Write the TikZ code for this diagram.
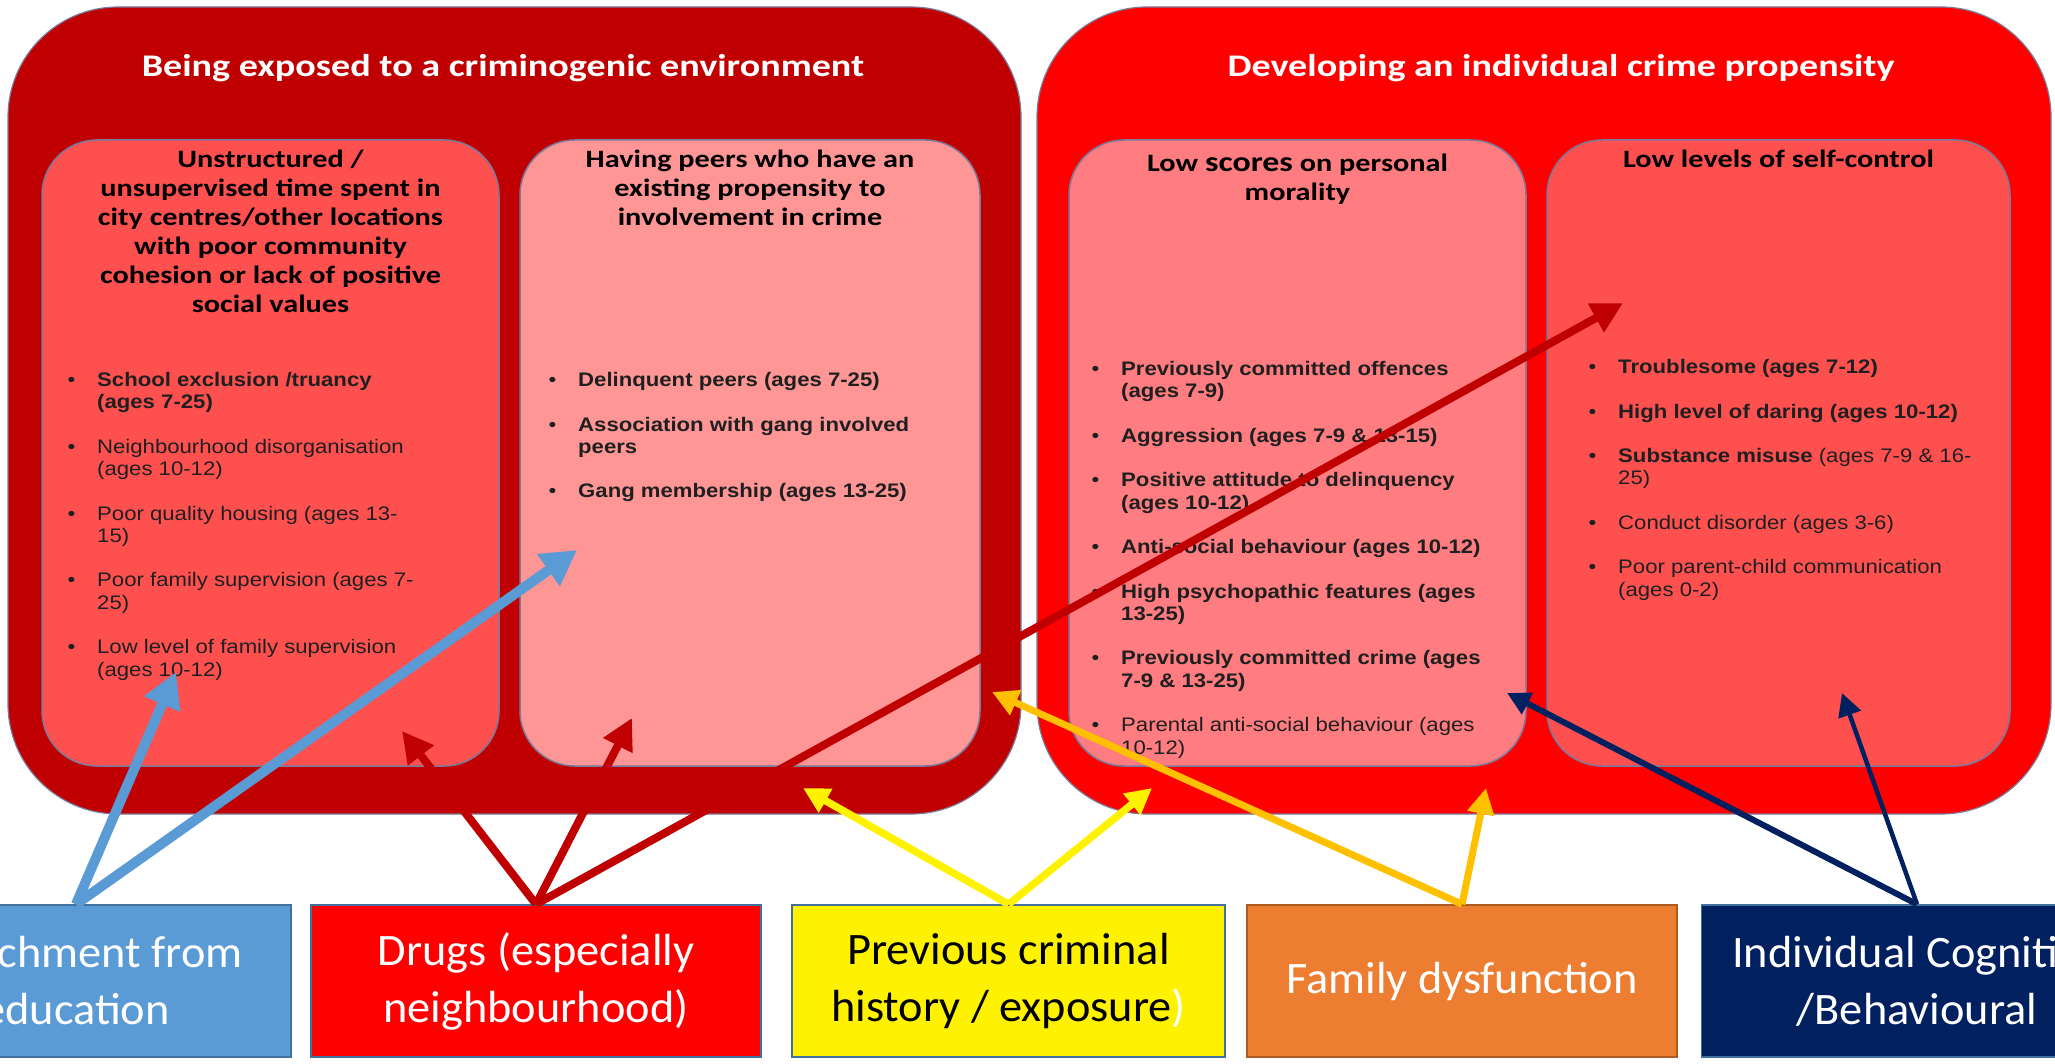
\documentclass[tikz,border=0pt]{standalone}
\usepackage{fontspec}
\setmainfont{Carlito}
\newfontfamily\headfont[FakeStretch=1.21]{Carlito}
\newfontfamily\listfont[FakeStretch=1.13]{Liberation Sans}
\newfontfamily\srcfont[FakeStretch=1.03]{Carlito}
\usetikzlibrary{arrows.meta}
\definecolor{envred}{HTML}{C00000}
\definecolor{propred}{HTML}{FF0000}
\definecolor{coral}{HTML}{FF5050}
\definecolor{pinkish}{HTML}{FF9696}
\definecolor{salmon}{HTML}{FF7C80}
\definecolor{edgegrey}{HTML}{7A7A9C}
\definecolor{linkblue}{HTML}{5B9BD5}
\definecolor{linkamber}{HTML}{FFC000}
\definecolor{linknavy}{HTML}{002060}
\definecolor{famorange}{HTML}{ED7D31}
\definecolor{srcedge}{HTML}{41719C}
\definecolor{famedge}{HTML}{AE5A21}
\newcommand{\titlelines}[1]{\begin{tabular}[t]{@{}c@{}}#1\end{tabular}}
\newcommand{\itemlines}[1]{\begin{tabular}[t]{@{}l@{}l@{}}#1\end{tabular}}
\newcommand{\bul}{\makebox[29.5pt][l]{\textbullet}}
\newcommand{\gap}{\\[22.2pt]}
\tikzset{
  bigbox/.style={draw=edgegrey, line width=1.2pt, rounded corners=110pt},
  innerbox/.style={draw=edgegrey, line width=1.5pt, rounded corners=55pt},
  headtext/.style={text=white, font=\headfont\bfseries\fontsize{31.5}{36}\selectfont, inner sep=0pt, anchor=base},
  subtitle/.style={text=black, font=\headfont\bfseries\fontsize{25}{29}\selectfont, inner sep=0pt, anchor=base},
  itemtext/.style={text=black!88, font=\listfont\fontsize{19.6}{22.3}\selectfont, inner sep=0pt, anchor=base west},
  srcbox/.style={draw=srcedge, line width=1.5pt, minimum width=430pt, minimum height=152pt, inner sep=0pt, align=center, text=white, font=\srcfont\fontsize{45}{57}\selectfont},
  bluelink/.style={draw=linkblue, line width=10pt, -{Triangle[length=35pt,width=37pt]}},
  redlink/.style={draw=envred, line width=8pt, -{Triangle[length=31pt,width=31pt]}},
  yellowlink/.style={draw=yellow, line width=7.5pt, -{Triangle[length=26pt,width=26pt]}},
  amberlink/.style={draw=linkamber, line width=7pt, -{Triangle[length=26pt,width=26pt]}},
  navylink/.style={draw=linknavy, line width=#1, -{Triangle[length=23pt,width=23pt]}}
}
\begin{document}
\begin{tikzpicture}[x=1pt,y=-1pt]
\useasboundingbox (0,0) rectangle (2055,1064);
\clip (0,0) rectangle (2055,1064);
\draw [bigbox, fill=envred] (8,7) rectangle (1021,814);
\draw [bigbox, fill=propred] (1037,7) rectangle (2051,814);
\draw [innerbox, fill=coral] (42,140) rectangle (499,766);
\draw [innerbox, fill=pinkish] (520,140) rectangle (980,766);
\draw [innerbox, fill=salmon] (1069,140) rectangle (1526,766);
\draw [innerbox, fill=coral] (1547,140) rectangle (2010,766);
\node [headtext] (envtitle) at (503,77) {Being exposed to a criminogenic environment};
\node [headtext] (proptitle) at (1561,77) {Developing an individual crime propensity};
\node [subtitle] (unstructured) at (270.5,168) {\titlelines{Unstructured /\\unsupervised time spent in\\city centres/other locations\\with poor community\\cohesion or lack of positive\\social values}};
\node [subtitle] (peers) at (750,168) {\titlelines{Having peers who have an\\existing propensity to\\involvement in crime}};
\node [subtitle] (morality) at (1297.5,172) {\titlelines{Low {\fontsize{28}{29}\selectfont scores} on personal\\morality}};
\node [subtitle] (selfcontrol) at (1778.5,168) {\titlelines{Low levels of self-control}};
\node [itemtext] (listA) at (67.5,386.5) {\itemlines{%
\bul & \textbf{School exclusion /truancy}\\
 & \textbf{(ages 7-25)}\gap
\bul & Neighbourhood disorganisation\\
 & (ages 10-12)\gap
\bul & Poor quality housing (ages 13-\\
 & 15)\gap
\bul & Poor family supervision (ages 7-\\
 & 25)\gap
\bul & Low level of family supervision\\
 & (ages 10-12)}};
\node [itemtext] (listB) at (548.5,386.5) {\itemlines{%
\bul & \textbf{Delinquent peers (ages 7-25)}\gap
\bul & \textbf{Association with gang involved}\\
 & \textbf{peers}\gap
\bul & \textbf{Gang membership (ages 13-25)}}};
\node [itemtext] (listC) at (1091.5,375.5) {\itemlines{%
\bul & \textbf{Previously committed offences}\\
 & \textbf{(ages 7-9)}\gap
\bul & \textbf{Aggression (ages 7-9 \& 13-15)}\gap
\bul & \textbf{Positive attitude to delinquency}\\
 & \textbf{(ages 10-12)}\gap
\bul & \textbf{Anti-social behaviour (ages 10-12)}\gap
\bul & \textbf{High psychopathic features (ages}\\
 & \textbf{13-25)}\gap
\bul & \textbf{Previously committed crime (ages}\\
 & \textbf{7-9 \& 13-25)}\gap
\bul & Parental anti-social behaviour (ages\\
 & 10-12)}};
\node [itemtext] (listD) at (1588.5,373.5) {\itemlines{%
\bul & \textbf{Troublesome (ages 7-12)}\gap
\bul & \textbf{High level of daring (ages 10-12)}\gap
\bul & \textbf{Substance misuse} (ages 7-9 \& 16-\\
 & 25)\gap
\bul & Conduct disorder (ages 3-6)\gap
\bul & Poor parent-child communication\\
 & (ages 0-2)}};
\node [srcbox, fill=linkblue] (detach) at (76,981) {Detachment from\\education};
\node [srcbox, fill=propred, minimum width=450pt] (drugs) at (536,981) {Drugs (especially\\neighbourhood)};
\node [srcbox, fill=yellow, text=black, minimum width=433pt] (history) at (1008.5,981) {Previous criminal\\history / exposure\textcolor{white}{)}};
\node [srcbox, fill=famorange, draw=famedge, minimum width=430pt] (family) at (1462,981) {Family dysfunction};
\node [srcbox, fill=linknavy, minimum width=431pt] (cognitive) at (1917,981) {Individual Cognitive\\/Behavioural};
\coordinate (tipA) at (176,672);
\coordinate (tipB) at (577,550);
\coordinate (tipC) at (402,731);
\coordinate (tipD) at (632,718);
\coordinate (tipE) at (1623,303);
\coordinate (tipF) at (803,788);
\coordinate (tipG) at (1152,788);
\coordinate (tipH) at (992,692);
\coordinate (tipI) at (1486,788);
\coordinate (tipJ) at (1507,693);
\coordinate (tipK) at (1842,693);
\draw [bluelink] (detach.north) -- (tipA);
\draw [bluelink] (detach.north) -- (tipB);
\draw [redlink] (drugs.north) -- (tipC);
\draw [redlink] (drugs.north) -- (tipD);
\draw [redlink] (drugs.north) -- (tipE);
\draw [yellowlink] (history.north) -- (tipF);
\draw [yellowlink] (history.north) -- (tipG);
\draw [amberlink] (family.north) -- (tipH);
\draw [amberlink] (family.north) -- (tipI);
\draw [navylink=6pt] (cognitive.north) -- (tipJ);
\draw [navylink=4.5pt] (cognitive.north) -- (tipK);
\end{tikzpicture}
\end{document}
